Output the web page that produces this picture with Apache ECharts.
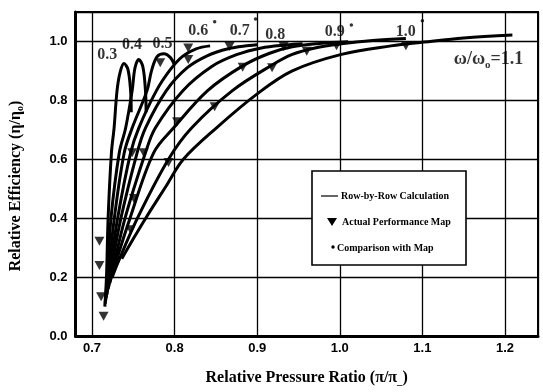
<!DOCTYPE html>
<html><head><meta charset="utf-8">
<script src="https://cdn.jsdelivr.net/npm/echarts@6/dist/echarts.min.js"></script>
<style>html,body{margin:0;padding:0;background:#fff}#c{width:543px;height:392px}</style>
</head><body><div id="c"></div>
<script>
// Relative speed lines (omega/omega0) - row-by-row calculation curves
const speeds = ['0.3','0.4','0.5','0.6','0.7','0.8','0.9','1.0','1.1'];
const c03 = [[0.7155,0.10],[0.7175,0.20],[0.7195,0.40],[0.7235,0.622],[0.7267,0.706],[0.7303,0.833],[0.7340,0.895],[0.7387,0.925],[0.7435,0.905],[0.7467,0.833],[0.7475,0.76]];
const c04 = [[0.7160,0.11],[0.7185,0.20],[0.7230,0.40],[0.7330,0.622],[0.7407,0.706],[0.7486,0.833],[0.7520,0.910],[0.7566,0.939],[0.7615,0.915],[0.7647,0.833],[0.7655,0.76]];
const c05 = [[0.7165,0.12],[0.7195,0.20],[0.7270,0.40],[0.7390,0.622],[0.7486,0.706],[0.7666,0.833],[0.7720,0.900],[0.7786,0.948],[0.7870,0.958],[0.7950,0.945],[0.8000,0.920]];
const c06 = [[0.7170,0.13],[0.7205,0.20],[0.7310,0.40],[0.7467,0.622],[0.7566,0.706],[0.7780,0.833],[0.7950,0.905],[0.8100,0.950],[0.8260,0.975],[0.8430,0.985]];
const c07 = [[0.7180,0.14],[0.7215,0.20],[0.7350,0.40],[0.7546,0.622],[0.7647,0.706],[0.7900,0.833],[0.8150,0.910],[0.8400,0.952],[0.8650,0.975],[0.8900,0.986],[0.9000,0.989]];
const c08 = [[0.7195,0.16],[0.7230,0.20],[0.7400,0.40],[0.7647,0.622],[0.7766,0.706],[0.8100,0.833],[0.8450,0.915],[0.8750,0.955],[0.9050,0.978],[0.9350,0.988],[0.9550,0.992]];
const c09 = [[0.7215,0.18],[0.7255,0.22],[0.7460,0.40],[0.7746,0.622],[0.7986,0.706],[0.8400,0.833],[0.8824,0.917],[0.9150,0.960],[0.9425,0.982],[0.9750,0.993],[1.0100,0.999]];
const c10 = [[0.7245,0.20],[0.7300,0.24],[0.7550,0.40],[0.7926,0.600],[0.8205,0.706],[0.8700,0.833],[0.9180,0.920],[0.9425,0.956],[0.9700,0.978],[1.0020,0.992],[1.0400,1.003],[1.0800,1.010]];
const c11 = [[0.7360,0.262],[0.7500,0.33],[0.7650,0.40],[0.7900,0.51],[0.8106,0.600],[0.8504,0.706],[0.9000,0.822],[0.9425,0.900],[1.0020,0.956],[1.0620,0.985],[1.1020,0.998],[1.1500,1.012],[1.2090,1.022]];
const curves = [c03,c04,c05,c06,c07,c08,c09,c10,c11];

// Actual performance map points (triangles)
const mapPoints = [[0.709,0.322],[0.709,0.239],[0.711,0.133],[0.714,0.067],[0.7467,0.361],[0.7507,0.467],
  [0.7486,0.622],[0.7626,0.622],[0.7926,0.589],[0.803,0.727],[0.8485,0.778],[0.8824,0.912],[0.918,0.911],
  [0.7826,0.928],[0.8165,0.978],[0.8165,0.939],[0.8665,0.983],[0.932,0.983],[0.96,0.967],[0.996,0.985],[1.08,0.985]];

// Comparison with map (dots)
const comparisonPoints = [[0.8485,1.067],[0.898,1.076],[1.014,1.056],[1.100,1.070]];

// Speed-line labels
const curveLabelText = ['0.3','0.4','0.5','0.6','0.7','0.8','0.9','1.0'];
const curveLabelPos = [[0.7183,0.956],[0.7483,0.989],[0.7854,0.992],[0.8285,1.035],[0.8788,1.035],[0.922,1.022],[0.9938,1.032],[1.080,1.032]];
const omegaLabelPos = [1.138,0.939];

const xTickLabels = ['0.7','0.8','0.9','1.0','1.1','1.2'];
const yTickLabels = ['0.0','0.2','0.4','0.6','0.8','1.0'];

const SERIF = 'Liberation Serif';
const SANS = 'Liberation Sans';

const chart = echarts.init(document.getElementById('c'), null, {renderer:'canvas'});

const series = curves.map((c,i)=>({
  name:'Row-by-Row Calculation '+speeds[i], type:'line', data:c, smooth:0.35, showSymbol:false, symbol:'none',
  lineStyle:{color:'#000', width:3}, z:3, silent:true
}));
series.push({
  name:'Actual Performance Map', type:'scatter', data:mapPoints, symbol:'triangle', symbolRotate:180,
  symbolSize:[10,9], itemStyle:{color:'#000'}, z:4
});
series.push({
  name:'Comparison with Map', type:'scatter', data:comparisonPoints, symbol:'circle', symbolSize:3.5,
  itemStyle:{color:'#000'}, z:4
});
series.push({
  name:'labels', type:'scatter', symbolSize:0, z:5,
  data: curveLabelText.map((t,i)=>({value:curveLabelPos[i], name:t})),
  label:{show:true, position:'inside', formatter:p=>p.name, color:'#000',
    fontFamily:SERIF, fontWeight:'bold', fontSize:16}
});
series.push({
  name:'omega', type:'scatter', symbolSize:0, z:5,
  data:[{value:omegaLabelPos, name:'w'}],
  label:{show:true, position:'right', distance:0, formatter:'{a|ω/ω}{s|o}{a|=1.1}', color:'#000',
    rich:{a:{fontFamily:SERIF, fontWeight:'bold', fontSize:18, color:'#000'},
          s:{fontFamily:SERIF, fontWeight:'bold', fontSize:11, color:'#000', padding:[11,0,0,0]}}}
});

chart.setOption({
  animation:false,
  backgroundColor:'#fff',
  grid:{left:70, right:5, top:12, bottom:51, show:true, borderColor:'#000', borderWidth:2},
  xAxis:{type:'value', min:0.68, max:1.24, splitNumber:5,
    axisLine:{show:true, onZero:false, lineStyle:{color:'#000', width:3}},
    axisTick:{show:false},
    splitLine:{show:true, lineStyle:{color:'#000', width:1.3}},
    axisLabel:{color:'#000', fontFamily:SANS, fontWeight:'bold', fontSize:13, margin:6,
      showMinLabel:false, showMaxLabel:false,
      formatter:v=>{const s=v.toFixed(1); return xTickLabels.includes(s) && Math.abs(v-parseFloat(s))<1e-6 ? s : '';}},
    name:'{a|Relative Pressure Ratio (π/π}{s|_}{a|)}', nameLocation:'middle', nameGap:32,
    nameTextStyle:{rich:{a:{fontFamily:SERIF, fontWeight:'bold', fontSize:16, color:'#000'},
      s:{fontFamily:SERIF, fontWeight:'bold', fontSize:11, color:'#000', padding:[8,0,0,0]}}}
  },
  yAxis:{type:'value', min:0, max:1.1, interval:0.2,
    axisLine:{show:true, lineStyle:{color:'#000', width:3}},
    axisTick:{show:false},
    splitLine:{show:true, lineStyle:{color:'#000', width:1.3}},
    axisLabel:{color:'#000', fontFamily:SANS, fontWeight:'bold', fontSize:13, margin:8,
      showMaxLabel:false,
      formatter:v=>{const s=v.toFixed(1); return yTickLabels.includes(s) && Math.abs(v-parseFloat(s))<1e-6 ? s : '';}},
    name:'{a|Relative Efficiency (η/η}{s|o}{a|)}', nameLocation:'middle', nameGap:50, nameRotate:90,
    nameTextStyle:{padding:[0,24,0,0], rich:{a:{fontFamily:SERIF, fontWeight:'bold', fontSize:16, color:'#000'},
      s:{fontFamily:SERIF, fontWeight:'bold', fontSize:10, color:'#000', padding:[9,0,0,0]}}}
  },
  series: series,
  graphic:[
    {type:'rect', shape:{x:312, y:171, width:154, height:94}, style:{fill:'#fff', stroke:'#000', lineWidth:1.6}, z:10},
    {type:'line', shape:{x1:321, y1:196, x2:338, y2:196}, style:{stroke:'#000', lineWidth:1.2}, z:11},
    {type:'text', x:341, y:196, style:{text:'Row-by-Row Calculation', fill:'#000', font:'bold 10px "Liberation Serif"', verticalAlign:'middle'}, z:11},
    {type:'polygon', shape:{points:[[327,218],[337,218],[332,226]]}, style:{fill:'#000'}, z:11},
    {type:'text', x:342, y:222, style:{text:'Actual Performance Map', fill:'#000', font:'bold 10px "Liberation Serif"', verticalAlign:'middle'}, z:11},
    {type:'circle', shape:{cx:333, cy:247, r:1.7}, style:{fill:'#000'}, z:11},
    {type:'text', x:337, y:248, style:{text:'Comparison with Map', fill:'#000', font:'bold 10px "Liberation Serif"', verticalAlign:'middle'}, z:11}
  ]
});
</script></body></html>
